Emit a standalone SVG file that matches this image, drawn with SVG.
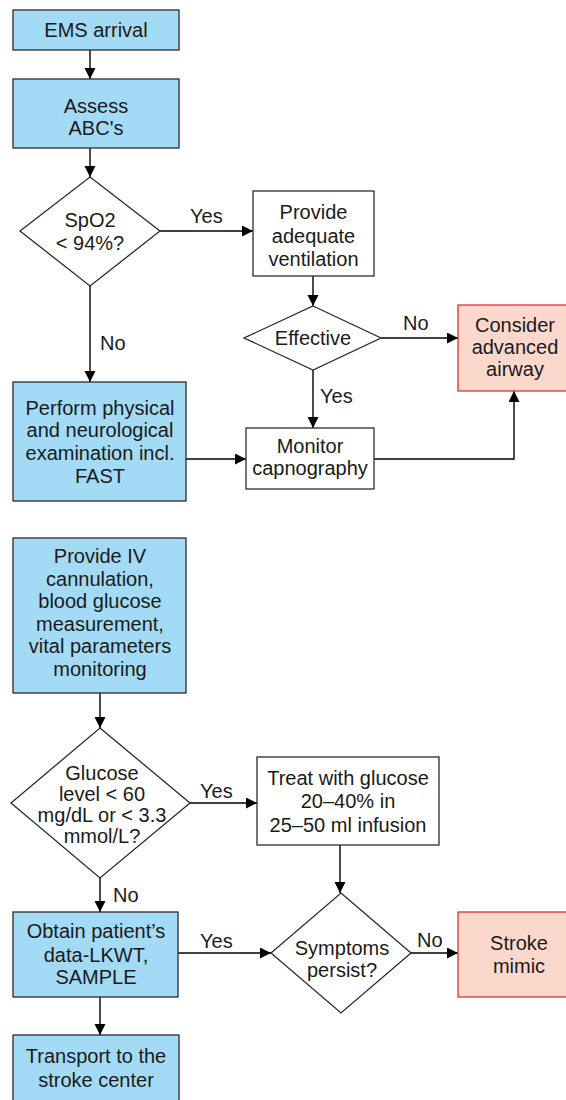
<svg xmlns="http://www.w3.org/2000/svg" width="566" height="1100" viewBox="0 0 566 1100">
<style>
.t{font-family:"Liberation Sans",Arial,sans-serif;font-size:20px;fill:#1a1a1a;text-anchor:middle}
.l{font-family:"Liberation Sans",Arial,sans-serif;font-size:20px;fill:#1a1a1a}
.blue{fill:#a3daf6;stroke:#2b2b2b;stroke-width:1.3}
.white{fill:#ffffff;stroke:#2b2b2b;stroke-width:1.3}
.pink{fill:#fbd8cb;stroke:#e0303a;stroke-width:1.3}
.c{fill:none;stroke:#000;stroke-width:1.4;marker-end:url(#ah)}
</style>
<defs>
<marker id="ah" markerUnits="userSpaceOnUse" markerWidth="12" markerHeight="12" refX="11" refY="5.5" orient="auto">
<path d="M0,0 L11,5.5 L0,11 z" fill="#000"/>
</marker>
</defs>
<g id="connectors">
<path class="c" d="M90,50 V79"/>
<path class="c" d="M90,148 V177"/>
<path class="c" d="M160,231 H253"/>
<path class="c" d="M313,276 V306"/>
<path class="c" d="M381,338 H458"/>
<path class="c" d="M313,370 V428"/>
<path class="c" d="M90,286 V382"/>
<path class="c" d="M186,459 H246"/>
<path class="c" d="M374,459 H514 V391"/>
<path class="c" d="M100,693 V728"/>
<path class="c" d="M190,803 H257"/>
<path class="c" d="M340,845 V893"/>
<path class="c" d="M411,953 H458"/>
<path class="c" d="M100,878 V912"/>
<path class="c" d="M178,953 H271"/>
<path class="c" d="M100,997 V1035"/>
<text class="l" x="190" y="223">Yes</text>
<text class="l" x="403" y="330">No</text>
<text class="l" x="320" y="403">Yes</text>
<text class="l" x="100" y="350">No</text>
<text class="l" x="200" y="798">Yes</text>
<text class="l" x="417" y="947">No</text>
<text class="l" x="113" y="902">No</text>
<text class="l" x="200" y="948">Yes</text>
</g>
<g id="ems">
<rect class="blue" x="13" y="10" width="166" height="40"/>
<text class="t" x="96" y="37">EMS arrival</text>
</g>
<g id="assess">
<rect class="blue" x="13" y="79" width="166" height="69"/>
<text class="t" x="96" y="113">Assess</text>
<text class="t" x="96" y="135">ABC's</text>
</g>
<g id="spo2">
<polygon class="white" points="90,177 160,231 90,286 20,231"/>
<text class="t" x="90" y="227">SpO2</text>
<text class="t" x="90" y="250">&lt; 94%?</text>
</g>
<g id="ventilation">
<rect class="white" x="253" y="191" width="121" height="85"/>
<text class="t" x="313.5" y="219">Provide</text>
<text class="t" x="313.5" y="243">adequate</text>
<text class="t" x="313.5" y="266">ventilation</text>
</g>
<g id="effective">
<polygon class="white" points="313,306 381,338 313,370 244,338"/>
<text class="t" x="313" y="345">Effective</text>
</g>
<g id="airway">
<rect class="pink" x="458" y="305" width="114" height="86"/>
<text class="t" x="515" y="332">Consider</text>
<text class="t" x="515" y="354">advanced</text>
<text class="t" x="515" y="376">airway</text>
</g>
<g id="monitor">
<rect class="white" x="246" y="428" width="128" height="61"/>
<text class="t" x="310" y="453">Monitor</text>
<text class="t" x="310" y="475">capnography</text>
</g>
<g id="perform">
<rect class="blue" x="13" y="382" width="173" height="119"/>
<text class="t" x="100" y="415">Perform physical</text>
<text class="t" x="100" y="437">and neurological</text>
<text class="t" x="100" y="460">examination incl.</text>
<text class="t" x="100" y="483">FAST</text>
</g>
<g id="ivcannulation">
<rect class="blue" x="13" y="538" width="173" height="155"/>
<text class="t" x="100" y="563">Provide IV</text>
<text class="t" x="100" y="586">cannulation,</text>
<text class="t" x="100" y="608">blood glucose</text>
<text class="t" x="100" y="631">measurement,</text>
<text class="t" x="100" y="653">vital parameters</text>
<text class="t" x="100" y="676">monitoring</text>
</g>
<g id="glucose">
<polygon class="white" points="100,728 190,803 100,878 11,803"/>
<text class="t" x="102" y="780">Glucose</text>
<text class="t" x="102" y="801">level &lt; 60</text>
<text class="t" x="102" y="822">mg/dL or &lt; 3.3</text>
<text class="t" x="102" y="843">mmol/L?</text>
</g>
<g id="treat">
<rect class="white" x="257" y="757" width="182" height="88"/>
<text class="t" x="348" y="785">Treat with glucose</text>
<text class="t" x="348" y="808">20–40% in</text>
<text class="t" x="348" y="832">25–50 ml infusion</text>
</g>
<g id="symptoms">
<polygon class="white" points="341,893 411,953 341,1013 271,953"/>
<text class="t" x="342" y="955">Symptoms</text>
<text class="t" x="342" y="977">persist?</text>
</g>
<g id="mimic">
<rect class="pink" x="458" y="912" width="122" height="85"/>
<text class="t" x="519" y="950">Stroke</text>
<text class="t" x="519" y="973">mimic</text>
</g>
<g id="obtain">
<rect class="blue" x="13" y="912" width="165" height="85"/>
<text class="t" x="96" y="938">Obtain patient’s</text>
<text class="t" x="96" y="962">data-LKWT,</text>
<text class="t" x="96" y="984">SAMPLE</text>
</g>
<g id="transport">
<rect class="blue" x="13" y="1035" width="166" height="70"/>
<text class="t" x="96" y="1063">Transport to the</text>
<text class="t" x="96" y="1087">stroke center</text>
</g>
</svg>
